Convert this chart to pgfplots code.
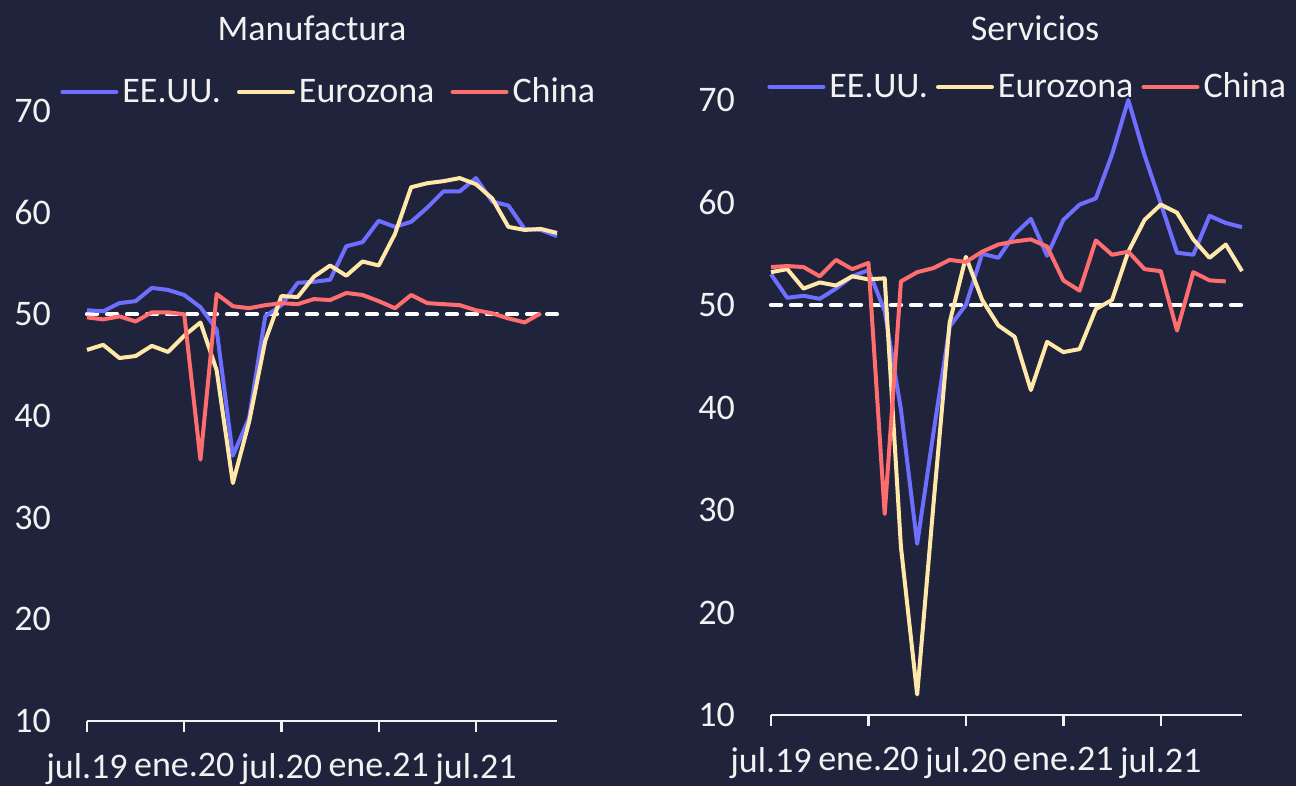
\documentclass[border=0pt]{standalone}
\usepackage{fontspec}
\setmainfont{Carlito}
\usepackage{pgfplots}
\usepackage{pgfplotstable}
\pgfplotsset{compat=1.18}
\definecolor{bgc}{HTML}{1F233C}
\definecolor{cus}{HTML}{6E6EFF}
\definecolor{ceu}{HTML}{FFE8A8}
\definecolor{ccn}{HTML}{FF6E6E}
\definecolor{txt}{HTML}{F2F2F2}

\pgfplotstableread{
x usm eum cnm uss eus cns
0 50.4 46.5 49.7 53.0 53.2 53.7
1 50.3 47.0 49.5 50.7 53.5 53.8
2 51.1 45.7 49.8 50.9 51.6 53.7
3 51.3 45.9 49.3 50.6 52.2 52.8
4 52.6 46.9 50.2 51.6 51.9 54.4
5 52.4 46.3 50.2 52.8 52.8 53.5
6 51.9 47.9 50.0 53.4 52.5 54.1
7 50.7 49.2 35.7 49.4 52.6 29.6
8 48.5 44.5 52.0 39.8 26.4 52.3
9 36.1 33.4 50.8 26.7 12.0 53.2
10 39.8 39.4 50.6 37.5 30.5 53.6
11 49.8 47.4 50.9 47.9 48.3 54.4
12 50.9 51.8 51.1 50.0 54.7 54.2
13 53.1 51.7 51.0 55.0 50.5 55.2
14 53.2 53.7 51.5 54.6 48.0 55.9
15 53.4 54.8 51.4 56.9 46.9 56.2
16 56.7 53.8 52.1 58.4 41.7 56.4
17 57.1 55.2 51.9 54.8 46.4 55.7
18 59.2 54.8 51.3 58.3 45.4 52.4
19 58.6 57.9 50.6 59.8 45.7 51.4
20 59.1 62.5 51.9 60.4 49.6 56.3
21 60.5 62.9 51.1 64.7 50.5 54.9
22 62.1 63.1 51.0 70.0 55.2 55.2
23 62.1 63.4 50.9 64.6 58.3 53.5
24 63.4 62.8 50.4 59.9 59.8 53.3
25 61.1 61.4 50.1 55.1 59.0 47.5
26 60.7 58.6 49.6 54.9 56.4 53.2
27 58.4 58.3 49.2 58.7 54.6 52.4
28 58.3 58.4 50.1 58.0 55.9 52.3
29 57.7 58.0 nan 57.6 53.3 nan
}\pmi

\pgfplotstableread{
x y
0 50
29 50
}\ref

\pgfplotsset{
 pmi/.style={
  scale only axis, xmin=0, xmax=29, ymin=10, ymax=70,
  axis x line*=bottom, axis y line*=left,
  y axis line style={draw=none}, ytick style={draw=none},
  x axis line style={txt, line width=1.2pt},
  xtick={0,6,12,18,24}, xticklabels={jul.19,ene.20,jul.20,ene.21,jul.21},
  ytick={10,20,30,40,50,60,70},
  tick align=outside, major tick length=5.5pt,
  xtick style={txt, line width=1.2pt},
  ticklabel style={text=txt, font=\fontsize{18}{21}\selectfont},
  /pgf/number format/assume math mode=true,
  yticklabel style={xshift=-9pt},
  xticklabel style={yshift=-7pt},
  clip=false,
  legend columns=3,
  legend image code/.code={\draw[##1, line cap=round] (0pt,0pt) -- (27pt,0pt);},
  legend style={draw=none, fill=none, text=txt, font=\fontsize{18}{21}\selectfont, anchor=west, inner sep=0pt, nodes={inner sep=2pt}},
 },
 us/.style={cus, line width=2pt, line join=round},
 eu/.style={ceu, line width=2pt, line join=round},
 cn/.style={ccn, line width=2pt, line join=round},
 ref/.style={white, line width=2.1pt, dash pattern=on 5pt off 5pt, line cap=round, forget plot},
}

\begin{document}
\begin{tikzpicture}[font=\fontsize{18}{21}\selectfont]
\path[fill=bgc, use as bounding box] (0pt,0pt) rectangle (648pt,393pt);
\node[text=txt] at (156pt,379pt) {Manufactura};
\node[text=txt] at (517.5pt,379pt) {Servicios};

\begin{axis}[pmi, at={(43.5pt,32.5pt)}, anchor=south west, width=235pt, height=305pt,
  legend style={at={(0,1)}, xshift=-13.5pt, yshift=9.5pt, /tikz/every even column/.append style={column sep=6pt}}]
\addplot[ref] table[x=x,y=y] {\ref};
\addplot[us] table[x=x,y=usm] {\pmi};
\addlegendentry{EE.UU.}
\addplot[eu] table[x=x,y=eum] {\pmi};
\addlegendentry{Eurozona}
\addplot[cn] table[x=x,y=cnm] {\pmi};
\addlegendentry{China}
\end{axis}

\begin{axis}[pmi, at={(385.5pt,35.5pt)}, anchor=south west, width=235.5pt, height=307.5pt,
  legend style={at={(0,1)}, xshift=-2pt, yshift=6.5pt, /tikz/every even column/.append style={column sep=2pt}}]
\addplot[ref] table[x=x,y=y] {\ref};
\addplot[us] table[x=x,y=uss] {\pmi};
\addlegendentry{EE.UU.}
\addplot[eu] table[x=x,y=eus] {\pmi};
\addlegendentry{Eurozona}
\addplot[cn] table[x=x,y=cns] {\pmi};
\addlegendentry{China}
\end{axis}
\end{tikzpicture}
\end{document}
